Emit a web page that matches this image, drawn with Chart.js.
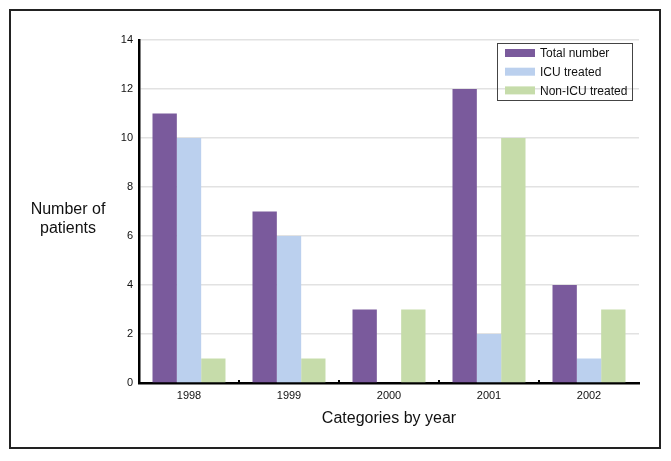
<!DOCTYPE html>
<html>
<head>
<meta charset="utf-8">
<script src="https://cdn.jsdelivr.net/npm/chart.js@4/dist/chart.umd.min.js"></script>
<style>
  html, body { margin: 0; padding: 0; background: #fff; }
  #wrap { position: relative; width: 671px; height: 461px; }
</style>
</head>
<body>
<div id="wrap"><canvas id="myChart" width="671" height="461"></canvas></div>
<script>
const years = ["1998", "1999", "2000", "2001", "2002"];
const totalNumber = [11, 7, 3, 12, 4];
const icuTreated = [10, 6, 0, 2, 1];
const nonIcuTreated = [1, 1, 3, 10, 3];
const seriesNames = ["Total number", "ICU treated", "Non-ICU treated"];
const barColors = ["#7a5a9c", "#bbd0ee", "#c6dcaa"];

const FONT = "'Liberation Sans', Arial, sans-serif";

// outer frame, horizontal y title and boxed legend
const extras = {
    id: 'extras',
    afterDraw(chart){
        const ctx = chart.ctx;
        ctx.save();
        ctx.strokeStyle = '#222';
        ctx.lineWidth = 2;
        ctx.strokeRect(10, 10, 650, 438);

        ctx.fillStyle = '#111';
        ctx.font = '16px ' + FONT;
        ctx.textAlign = 'center';
        ctx.textBaseline = 'middle';
        ctx.fillText('Number of', 68, 210);
        ctx.fillText('patients', 68, 229);

        // legend
        ctx.strokeStyle = '#444';
        ctx.lineWidth = 1;
        ctx.strokeRect(497.5, 43.5, 135, 57);
        ctx.font = '12px ' + FONT;
        ctx.textAlign = 'left';
        chart.data.datasets.forEach((ds, i) => {
            const y = 53 + i * 18.7;
            ctx.fillStyle = ds.backgroundColor;
            ctx.fillRect(505, y - 4, 30, 8);
            ctx.fillStyle = '#111';
            ctx.fillText(ds.label, 540, y + 1);
        });

        // small upward ticks at category boundaries on the x axis
        const xs = chart.scales.x, bottom = chart.chartArea.bottom;
        const n = chart.data.labels.length;
        ctx.strokeStyle = '#000';
        ctx.lineWidth = 2;
        for (let i = 1; i < n; i++){
            const px = Math.round((xs.getPixelForTick(i - 1) + xs.getPixelForTick(i)) / 2);
            ctx.beginPath();
            ctx.moveTo(px, bottom);
            ctx.lineTo(px, bottom - 3);
            ctx.stroke();
        }
        ctx.restore();
    }
};

new Chart(document.getElementById('myChart'), {
    type: 'bar',
    data: {
        labels: years,
        datasets: [
            { label: seriesNames[0], data: totalNumber, backgroundColor: barColors[0] },
            { label: seriesNames[1], data: icuTreated, backgroundColor: barColors[1] },
            { label: seriesNames[2], data: nonIcuTreated, backgroundColor: barColors[2] }
        ]
    },
    options: {
        responsive: false,
        animation: false,
        layout: { padding: { left: 0, right: 32, top: 40, bottom: 0 } },
        datasets: { bar: { categoryPercentage: 0.73, barPercentage: 1.0 } },
        plugins: {
            legend: { display: false },
            tooltip: { enabled: false }
        },
        scales: {
            x: {
                grid: { display: false, drawTicks: false },
                border: { color: '#000', width: 2.5 },
                ticks: { color: '#111', font: { family: FONT, size: 11 }, padding: 6 },
                title: {
                    display: true,
                    text: 'Categories by year',
                    color: '#111',
                    font: { family: FONT, size: 16 },
                    padding: { top: 0, bottom: 33 }
                },
                afterFit(scale){ scale.height = 78; }
            },
            y: {
                min: 0,
                max: 14,
                ticks: { stepSize: 2, color: '#111', font: { family: FONT, size: 11 }, padding: 6 },
                grid: { color: '#e2e2e2', lineWidth: 1.5, drawTicks: false },
                border: { color: '#000', width: 2.5 },
                afterFit(scale){ scale.width = 139; }
            }
        }
    },
    plugins: [extras]
});
</script>
</body>
</html>
